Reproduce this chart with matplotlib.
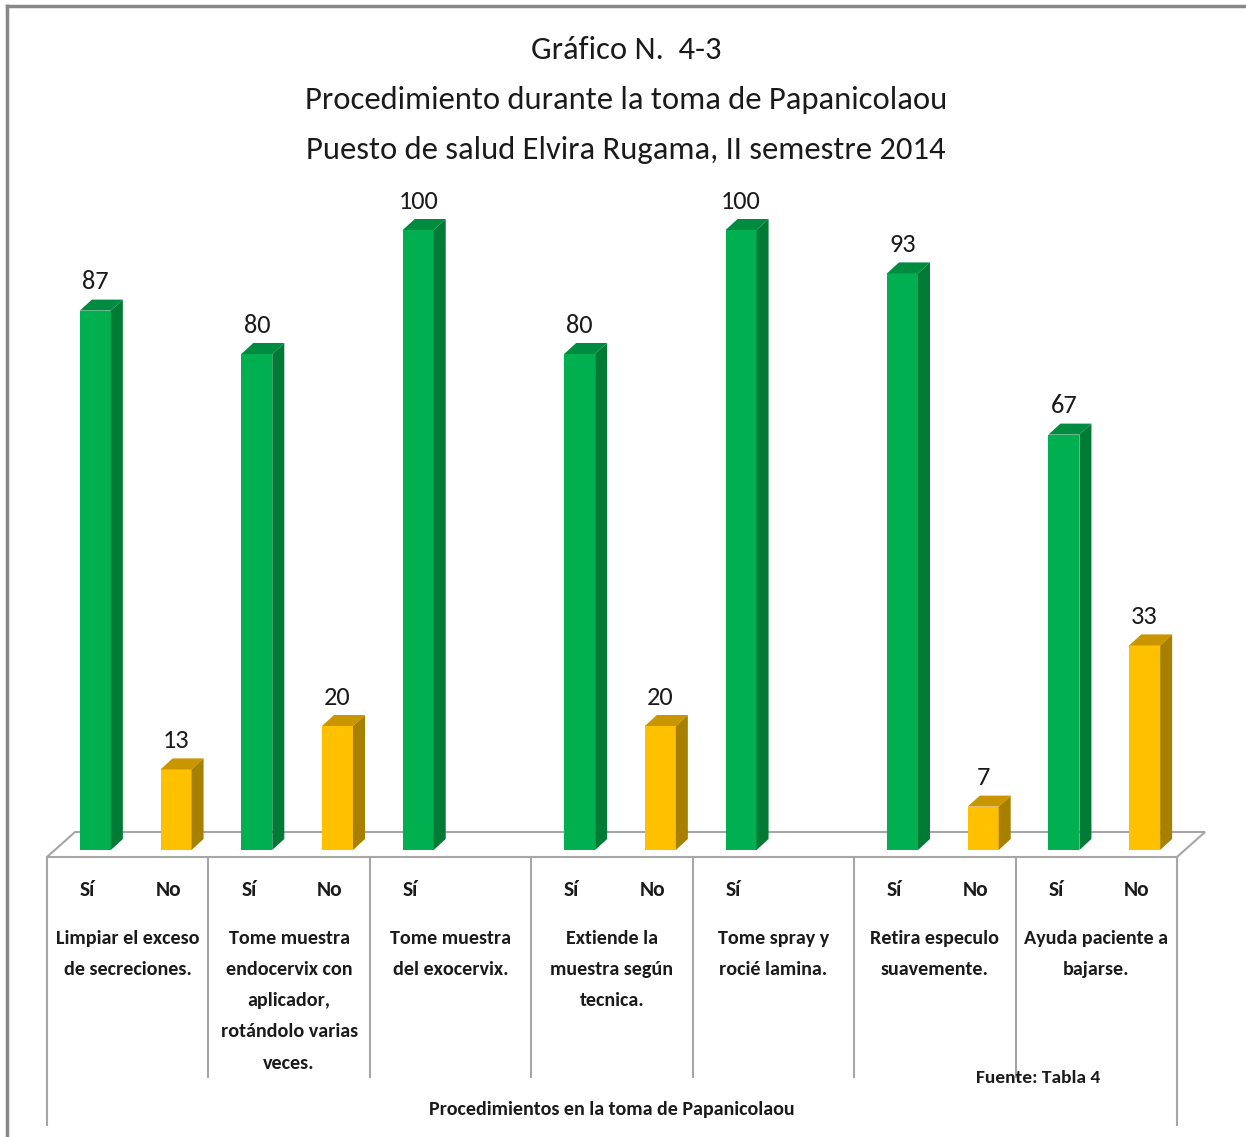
import matplotlib.pyplot as plt
from matplotlib.patches import Polygon
from matplotlib.lines import Line2D

plt.rcParams['font.family'] = ['Carlito', 'Roboto Condensed', 'Liberation Sans Narrow', 'DejaVu Sans']

categories = [
    "Limpiar el exceso\nde secreciones.",
    "Tome muestra\nendocervix con\naplicador,\nrotándolo varias\nveces.",
    "Tome muestra\ndel exocervix.",
    "Extiende la\nmuestra según\ntecnica.",
    "Tome spray y\nrocié lamina.",
    "Retira especulo\nsuavemente.",
    "Ayuda paciente a\nbajarse.",
]
si_values = [87, 80, 100, 80, 100, 93, 67]
no_values = [13, 20, None, 20, None, 7, 33]
series_labels = ["Sí", "No"]

title = "Gráfico N.  4-3\nProcedimiento durante la toma de Papanicolaou\nPuesto de salud Elvira Rugama, II semestre 2014"
axis_title = "Procedimientos en la toma de Papanicolaou"
source = "Fuente: Tabla 4"

GREEN = ("#00B050", "#008C40", "#007A35")   # front, top, side
GOLD = ("#FFC000", "#C99600", "#A88000")
GRAY = "#A6A6A6"

W, H = 1246, 1137
fig = plt.figure(figsize=(W / 100, H / 100), dpi=100)
ax = fig.add_axes([0, 0, 1, 1])
ax.axis('off')

# one slot per series inside each category; map slots/values to the page
slot_px = (1177 - 47) / (2 * len(categories))
unit_px = 6.2
ax.set_xlim(-47 / slot_px, (W - 47) / slot_px)
ax.set_ylim((850 - H) / unit_px, 850 / unit_px)

n_slots = 2 * len(categories)
px_x = 1 / slot_px   # one pixel in x data units
px_y = 1 / unit_px

# floor (perspective plane)
fdx, fdy = 28 * px_x, 25 * px_y
f0 = -7 * px_y
floor = Polygon([(0, f0), (n_slots, f0), (n_slots + fdx, f0 + fdy), (fdx, f0 + fdy)],
                closed=True, facecolor='white', edgecolor=GRAY, lw=1.5, zorder=1)
ax.add_patch(floor)

# 3d bars
bw = 31 * px_x
bdx, bdy = 12 * px_x, 11 * px_y
shift = 8 * px_x


def bar3d(xc, h, cols):
    x0 = xc + shift - bw / 2
    x1 = x0 + bw
    front = Polygon([(x0, 0), (x1, 0), (x1, h), (x0, h)], facecolor=cols[0], edgecolor='none', zorder=3)
    top = Polygon([(x0, h), (x1, h), (x1 + bdx, h + bdy), (x0 + bdx, h + bdy)],
                  facecolor=cols[1], edgecolor='none', zorder=3)
    side = Polygon([(x1, 0), (x1 + bdx, bdy), (x1 + bdx, h + bdy), (x1, h)],
                   facecolor=cols[2], edgecolor='none', zorder=3)
    for p in (front, top, side):
        ax.add_patch(p)
    ax.text(xc + shift, h + bdy + 1.0, f"{h}", ha='center', va='bottom',
            fontsize=19, color='#1a1a1a', zorder=4)


for i, cat in enumerate(categories):
    xs = 2 * i + 0.5
    xn = 2 * i + 1.5
    bar3d(xs, si_values[i], GREEN)
    ax.text(xs, -40 * px_y, series_labels[0], ha='center', va='center',
            fontsize=15.5, fontweight='bold', color='#1a1a1a')
    if no_values[i] is not None:
        bar3d(xn, no_values[i], GOLD)
        ax.text(xn, -40 * px_y, series_labels[1], ha='center', va='center',
                fontsize=15.5, fontweight='bold', color='#1a1a1a')
    ax.text(2 * i + 1, -80 * px_y, cat, ha='center', va='top', fontsize=14.5,
            fontweight='bold', color='#1a1a1a', linespacing=2.01)

# category separators
for k in range(len(categories) + 1):
    xk = 2 * k
    bottom = -275 * px_y if k in (0, len(categories)) else -227 * px_y
    ax.add_line(Line2D([xk, xk], [f0, bottom], color=GRAY, lw=1.5, zorder=1))

ax.text(n_slots / 2, -260 * px_y, axis_title, ha='center', va='center',
        fontsize=14.4, fontweight='bold', color='#1a1a1a')
ax.text(2 * 6 + 0.28, -228 * px_y, source, ha='center', va='center',
        fontsize=14, fontweight='bold', color='#1a1a1a', zorder=5)

fig.text(626 / W, 1 - 100 / H, title, ha='center', va='center', fontsize=23.5,
         color='#1a1a1a', linespacing=1.97)

# chart border (top and left visible)
fig.add_artist(Line2D([7 / W, 7 / W], [0, 1 - 6 / H], transform=fig.transFigure, color='#888888', lw=2.5))
fig.add_artist(Line2D([7 / W, 1], [1 - 6 / H, 1 - 6 / H], transform=fig.transFigure, color='#888888', lw=2.5))

fig.savefig('out.png', dpi=100)
